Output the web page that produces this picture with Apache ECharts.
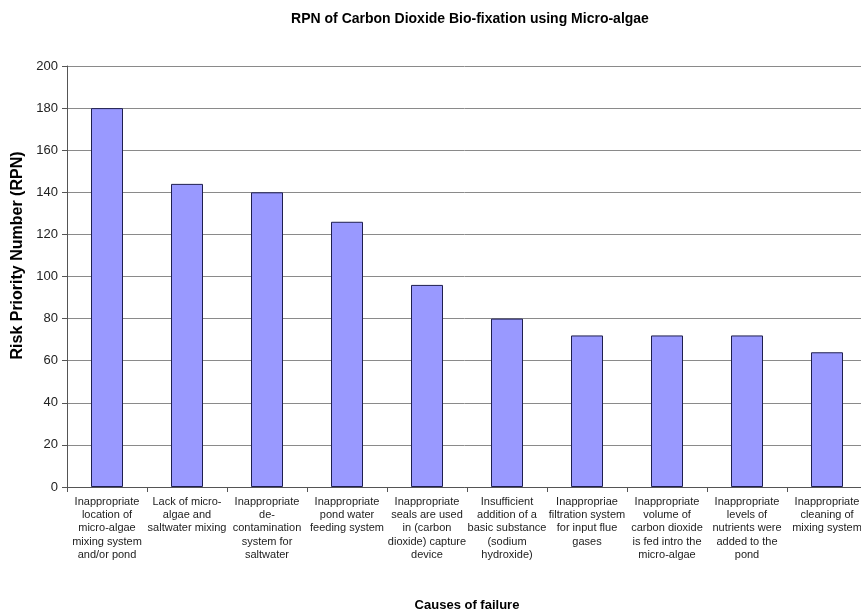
<!DOCTYPE html>
<html>
<head>
<meta charset="utf-8">
<style>
  html, body { margin: 0; padding: 0; background: #fff; }
  #chart { width: 861px; height: 612px; }
</style>
<script src="https://cdn.jsdelivr.net/npm/echarts@6/dist/echarts.min.js"></script>
</head>
<body>
<div id="chart"></div>
<script>
// causes of failure (line breaks as in the source figure)
const categories = [
  'Inappropriate\nlocation of\nmicro-algae\nmixing system\nand/or pond',
  'Lack of micro-\nalgae and\nsaltwater mixing',
  'Inappropriate\nde-\ncontamination\nsystem for\nsaltwater',
  'Inappropriate\npond water\nfeeding system',
  'Inappropriate\nseals are used\nin (carbon\ndioxide) capture\ndevice',
  'Insufficient\naddition of a\nbasic substance\n(sodium\nhydroxide)',
  'Inappropriae\nfiltration system\nfor input flue\ngases',
  'Inappropriate\nvolume of\ncarbon dioxide\nis fed intro the\nmicro-algae',
  'Inappropriate\nlevels of\nnutrients were\nadded to the\npond',
  'Inappropriate\ncleaning of\nmixing system'
];
const rpnValues = [180, 144, 140, 126, 96, 80, 72, 72, 72, 64];
const yTicks = [0, 200, 20]; // min, max, step

const chart = echarts.init(document.getElementById('chart'));
chart.setOption({
  animation: false,
  textStyle: { fontFamily: 'Liberation Sans, Arial, sans-serif' },
  title: {
    text: 'RPN of Carbon Dioxide Bio-fixation using Micro-algae',
    left: 465, top: 7, textAlign: 'center',
    textStyle: { fontSize: 14, fontWeight: 'bold', color: '#000' }
  },
  grid: { left: 67, right: -6, top: 66, bottom: 125, containLabel: false, outerBoundsMode: 'none' },
  xAxis: {
    type: 'category',
    data: categories,
    name: 'Causes of failure',
    nameLocation: 'middle',
    nameGap: 112,
    nameTextStyle: { fontSize: 13, fontWeight: 'bold', color: '#000' },
    axisLine: { lineStyle: { color: '#555', width: 1 } },
    axisTick: { show: true, length: 5, lineStyle: { color: '#555' } },
    axisLabel: { interval: 0, fontSize: 11, color: '#222', lineHeight: 13.3, margin: 8 }
  },
  yAxis: {
    type: 'value',
    min: yTicks[0], max: yTicks[1], interval: yTicks[2],
    name: 'Risk Priority Number (RPN)',
    nameLocation: 'middle',
    nameGap: 40,
    nameTextStyle: { fontSize: 16, fontWeight: 'bold', color: '#000', padding: [0, 0, 0, 42] },
    axisLine: { show: true, lineStyle: { color: '#555', width: 1 } },
    axisTick: { show: true, length: 5, lineStyle: { color: '#555' } },
    axisLabel: { fontSize: 13, color: '#222', margin: 9 },
    splitLine: { lineStyle: { color: '#8a8a8a', width: 1 } }
  },
  series: [{
    type: 'bar',
    data: rpnValues,
    barWidth: '40%',
    itemStyle: { color: '#9999ff', borderColor: '#1f1f4f', borderWidth: 1 }
  }]
});
</script>
</body>
</html>
